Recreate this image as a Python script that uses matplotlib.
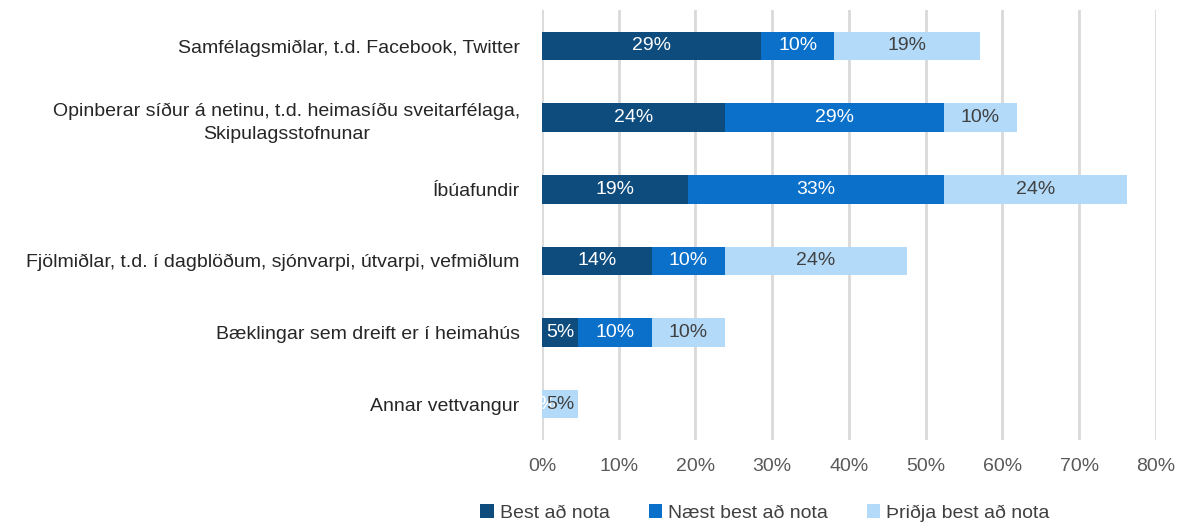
import matplotlib
matplotlib.use("Agg")
import matplotlib.pyplot as plt
from matplotlib import font_manager
import numpy as np

categories = [
    "Samfélagsmiðlar, t.d. Facebook, Twitter",
    "Opinberar síður á netinu, t.d. heimasíðu sveitarfélaga,\nSkipulagsstofnunar",
    "Íbúafundir",
    "Fjölmiðlar, t.d. í dagblöðum, sjónvarpi, útvarpi, vefmiðlum",
    "Bæklingar sem dreift er í heimahús",
    "Annar vettvangur",
]
series_names = ["Best að nota", "Næst best að nota", "Þriðja best að nota"]
best = [0.2857, 0.2381, 0.1905, 0.1429, 0.0476, 0.0]
naest = [0.0952, 0.2857, 0.3333, 0.0952, 0.0952, 0.0]
thridja = [0.1905, 0.0952, 0.2381, 0.2381, 0.0952, 0.0476]
xticks = [0, 0.1, 0.2, 0.3, 0.4, 0.5, 0.6, 0.7, 0.8]

avail = {f.name for f in font_manager.fontManager.ttflist}
fam = [f for f in ["Liberation Sans Narrow", "Liberation Sans", "DejaVu Sans"] if f in avail]
plt.rcParams["font.family"] = fam

colors = ["#0E4C7E", "#0A70CA", "#B3DAF9"]
text_colors = ["white", "white", "#404040"]

fig = plt.figure(figsize=(11.99, 5.32), dpi=100)
ax = fig.add_axes([0.452, 0.173, 0.512, 0.808])

y = np.arange(len(categories))
left = np.zeros(len(categories))
for vals, col, tc, name in zip([best, naest, thridja], colors, text_colors, series_names):
    vals = np.array(vals)
    ax.barh(y, vals, left=left, height=0.4, color=col, label=name, zorder=3)
    for yi, v, l in zip(y, vals, left):
        ax.text(l + v / 2, yi, f"{v*100:.0f}%", ha="center", va="center",
                color=tc, fontsize=14, zorder=4)
    left = left + vals

ax.set_ylim(len(categories) - 0.5, -0.5)
ax.set_xlim(0, 0.8)
ax.set_xticks(xticks)
ax.set_xticklabels([f"{t*100:.0f}%" for t in xticks], fontsize=14, color="#595959")
ax.set_yticks(y)
ax.set_yticklabels(categories, fontsize=14, color="#262626", linespacing=1.45,
                   multialignment="center")
ax.tick_params(axis="both", length=0, pad=16)
ax.tick_params(axis="x", pad=13)
ax.grid(axis="x", color="#D9D9D9", linewidth=2, zorder=0)
for s in ax.spines.values():
    s.set_visible(False)

fig.legend(loc="lower center", bbox_to_anchor=(0.638, -0.014), ncol=3, frameon=False,
           fontsize=14, handlelength=0.7, handleheight=0.7, handletextpad=0.3,
           columnspacing=2.0, labelcolor="#404040")

fig.savefig("out.png", dpi=100)
